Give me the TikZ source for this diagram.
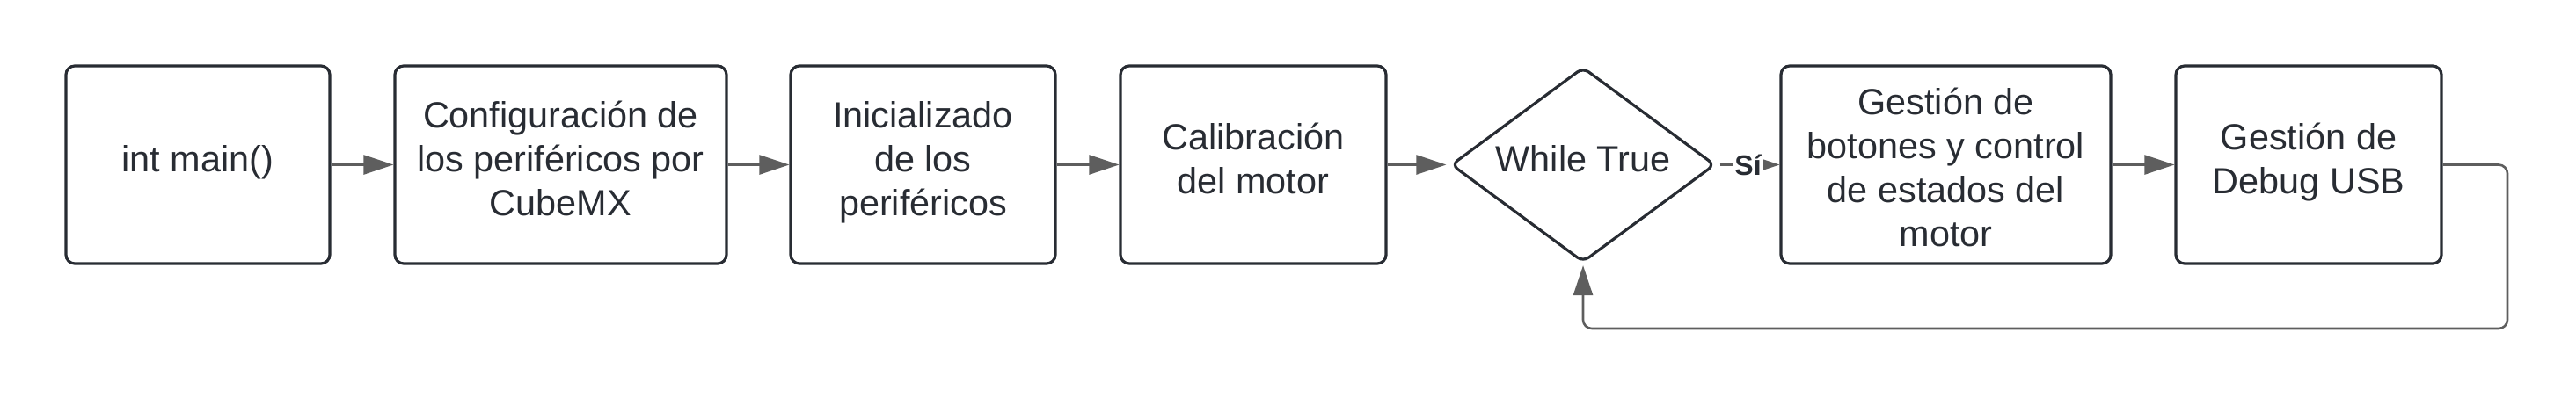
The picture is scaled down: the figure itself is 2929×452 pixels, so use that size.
\documentclass[tikz,border=0pt]{standalone}
\usepackage{fontspec}
\setmainfont{Liberation Sans}
\usetikzlibrary{shapes.geometric,arrows.meta}
\definecolor{boxc}{HTML}{282C33}
\definecolor{arrc}{HTML}{5E5E5E}
\newcommand{\ls}{\rule[-8.75pt]{0pt}{25pt}}
\newcommand{\lsfirst}{\rule[-8.75pt]{0pt}{35pt}}
\begin{document}
\begin{tikzpicture}[x=0.5pt,y=-0.5pt,
  box/.style={draw=boxc, line width=1.6pt, rounded corners=5pt, align=center,
    text=boxc, font=\fontsize{20.7}{25}\selectfont, minimum height=112.5pt, inner sep=0pt},
  dec/.style={draw=boxc, line width=1.6pt, diamond, rounded corners=4pt, aspect=1.35,
    minimum width=150pt, minimum height=111pt, inner sep=0pt, align=center,
    text=boxc, font=\fontsize{20.7}{25}\selectfont},
  conn/.style={draw=arrc, line width=1.3pt, -{Triangle[length=17pt,width=11pt]}},
  lab/.style={font=\bfseries\fontsize{16}{18}\selectfont, text=boxc, fill=white, inner sep=1pt}]
\useasboundingbox (0,0) rectangle (2929,452);
\node[box, minimum width=150pt] (n1) at (225,187.5) {int main()\ls};
\node[box, minimum width=188.5pt] (n2) at (637.5,187.5) {Configuración de\ls\\los periféricos por\ls\\CubeMX\ls};
\node[box, minimum width=150.5pt] (n3) at (1049.5,187.5) {Inicializado\ls\\de los\ls\\periféricos\ls};
\node[box, minimum width=151pt] (n4) at (1425,187.5) {Calibración\ls\\del motor\ls};
\node[dec] (d) at (1800,187.5) {While True\ls};
\node[box, minimum width=187.5pt] (n5) at (2212.5,187.5) {Gestión de\lsfirst\\botones y control\ls\\de estados del\ls\\motor\ls};
\node[box, minimum width=151pt] (n6) at (2625,187.5) {Gestión de\ls\\Debug USB\ls};
\coordinate (r) at (2851,374);
\draw[conn] (n1) -- (n2);
\draw[conn] (n2) -- (n3);
\draw[conn] (n3) -- (n4);
\draw[conn, shorten >=2pt] (n4) -- (d);
\draw[conn, shorten <=2pt] (d.east) -- node[lab] {Sí} (n5.west);
\draw[conn] (n5) -- (n6);
\draw[conn, rounded corners=5pt, shorten >=1pt] (n6.east) -| (r) -| (d.south);
\end{tikzpicture}
\end{document}
